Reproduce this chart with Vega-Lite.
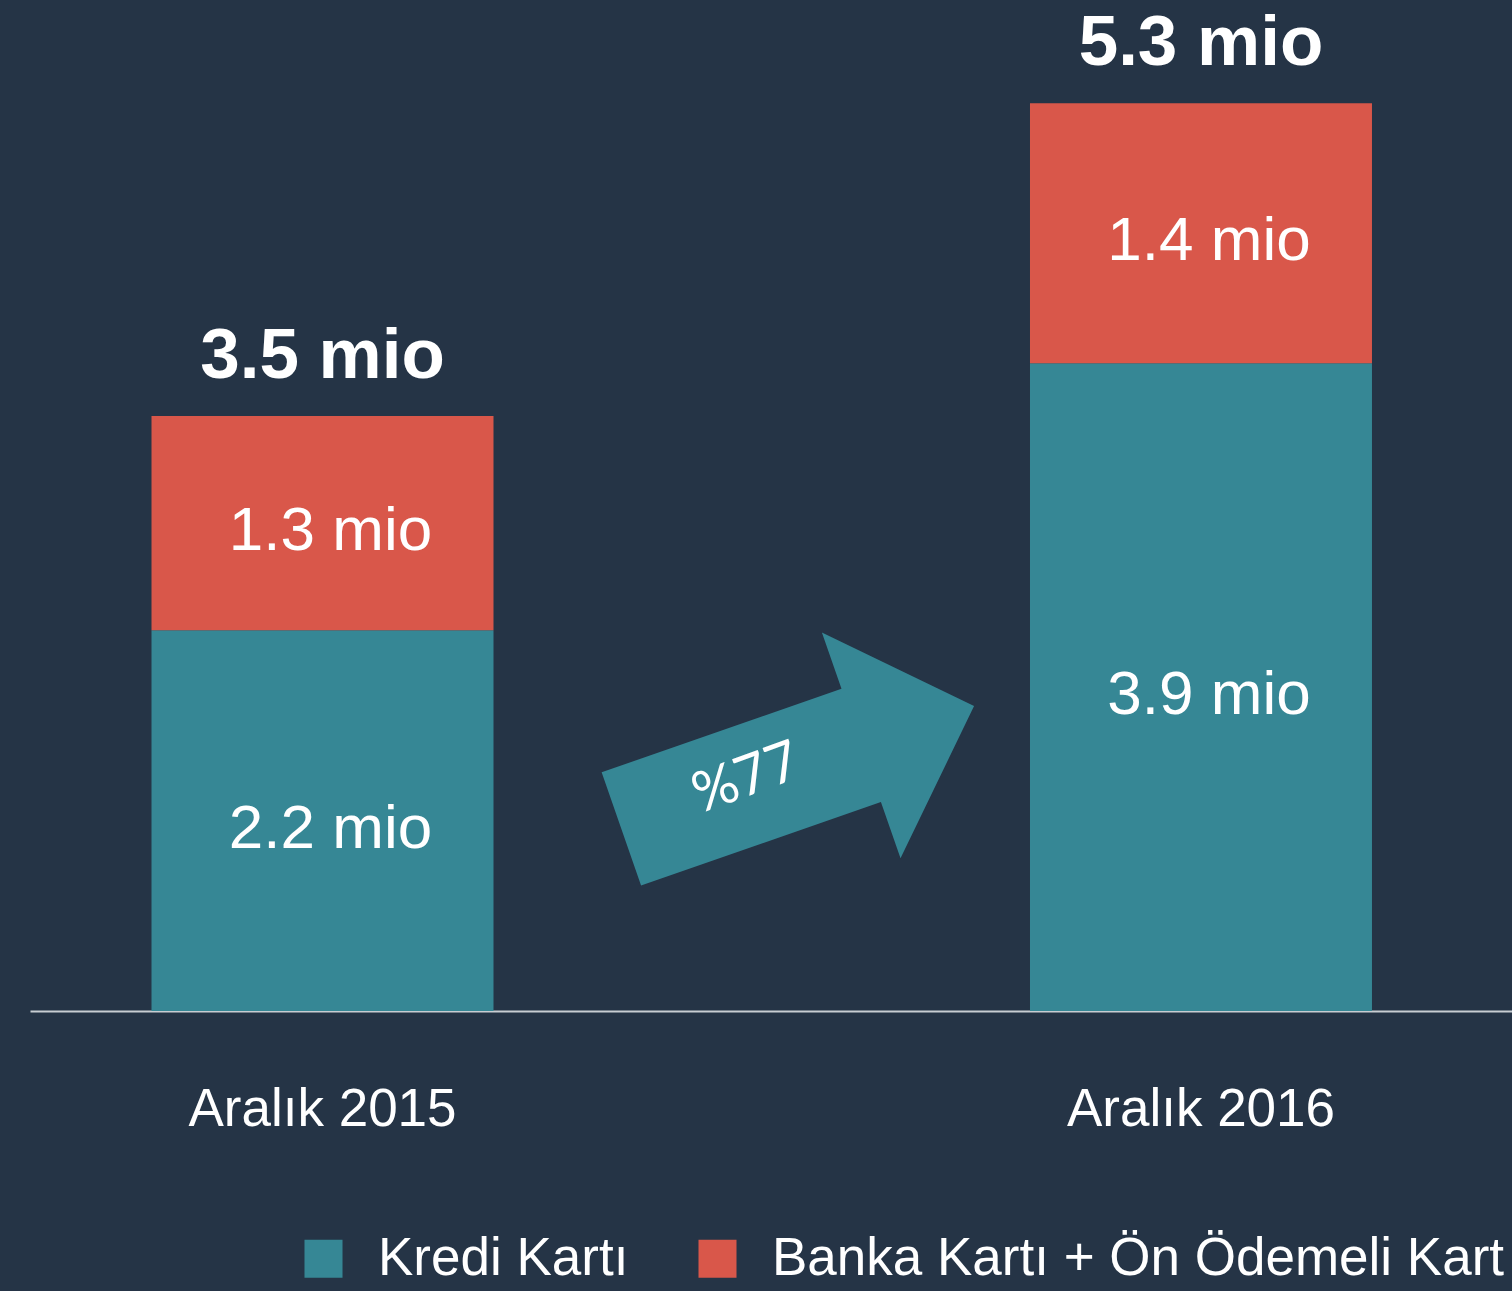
{
  "$schema": "https://vega.github.io/schema/vega-lite/v6.json",
  "width": 1482,
  "height": 1011,
  "autosize": {"type": "none"},
  "padding": {"left": 30, "top": 0, "right": 0, "bottom": 280},
  "background": "#253446",
  "config": {"view": {"stroke": null}, "font": "Liberation Sans"},
  "datasets": {
    "segments": [
      {"period": "Aralık 2015", "type": "Kredi Kartı", "order": 1, "value": 2.24, "label": "2.2 mio"},
      {"period": "Aralık 2015", "type": "Banka Kartı + Ön Ödemeli Kart", "order": 2, "value": 1.26, "label": "1.3 mio"},
      {"period": "Aralık 2016", "type": "Kredi Kartı", "order": 1, "value": 3.81, "label": "3.9 mio"},
      {"period": "Aralık 2016", "type": "Banka Kartı + Ön Ödemeli Kart", "order": 2, "value": 1.53, "label": "1.4 mio"}
    ],
    "totals": [
      {"period": "Aralık 2015", "value": 3.5, "label": "3.5 mio"},
      {"period": "Aralık 2016", "value": 5.34, "label": "5.3 mio"}
    ],
    "arrow": [{"period": "%77", "value": 1.432}],
    "growth": [{"period": "%77", "value": 1.40, "label": "%77"}]
  },
  "encoding": {
    "x": {
      "field": "period",
      "type": "nominal",
      "title": null,
      "scale": {
        "domain": ["Aralık 2015", "%77", "Aralık 2016"],
        "paddingInner": 0.2214,
        "paddingOuter": 0.2977,
        "align": 0.4646
      },
      "axis": {
        "domainColor": "#c8cdd2",
        "domainWidth": 2,
        "ticks": false,
        "grid": false,
        "labelAngle": 0,
        "labelFontSize": 53,
        "labelColor": "#ffffff",
        "labelFont": "Liberation Sans",
        "labelPadding": 72,
        "labelLimit": 1000,
        "labelExpr": "datum.value == '%77' ? '' : datum.label"
      }
    }
  },
  "layer": [
    {
      "data": {"name": "segments"},
      "mark": {"type": "bar"},
      "encoding": {
        "y": {
          "field": "value",
          "type": "quantitative",
          "stack": "zero",
          "scale": {"domain": [0, 5.947], "nice": false, "zero": true},
          "axis": null
        },
        "order": {"field": "order", "type": "quantitative"},
        "color": {
          "field": "type",
          "type": "nominal",
          "scale": {
            "domain": ["Kredi Kartı", "Banka Kartı + Ön Ödemeli Kart"],
            "range": ["#368795", "#D9574A"]
          },
          "legend": {
            "orient": "none",
            "legendX": 267,
            "legendY": 1232,
            "direction": "horizontal",
            "title": null,
            "padding": 0,
            "symbolType": "square",
            "symbolSize": 1444,
            "symbolStrokeWidth": 0,
            "symbolOpacity": 1,
            "labelFontSize": 53,
            "labelColor": "#ffffff",
            "labelFont": "Liberation Sans",
            "labelLimit": 1000,
            "labelOffset": 28,
            "columnPadding": 62
          }
        }
      }
    },
    {
      "data": {"name": "segments"},
      "transform": [
        {"stack": "value", "groupby": ["period"], "sort": [{"field": "order", "order": "ascending"}], "as": ["y0", "y1"]},
        {"calculate": "(datum.y0 + datum.y1) / 2", "as": "mid"}
      ],
      "mark": {"type": "text", "align": "center", "baseline": "middle", "fontSize": 62, "color": "#ffffff", "dx": 8, "dy": 8},
      "encoding": {
        "y": {"field": "mid", "type": "quantitative", "stack": null},
        "text": {"field": "label"}
      }
    },
    {
      "data": {"name": "totals"},
      "mark": {"type": "text", "align": "center", "baseline": "alphabetic", "fontSize": 71, "fontWeight": "bold", "color": "#ffffff", "dy": -38},
      "encoding": {
        "y": {"field": "value", "type": "quantitative", "stack": null},
        "text": {"field": "label"}
      }
    },
    {
      "data": {"name": "arrow"},
      "mark": {
        "type": "point",
        "shape": "M -0.818 -0.258 L 0.542 -0.258 L 0.542 -0.577 L 1.182 0.063 L 0.542 0.703 L 0.542 0.384 L -0.818 0.384 Z",
        "filled": true,
        "opacity": 1,
        "angle": -19.2,
        "size": 139502,
        "color": "#368795",
        "strokeWidth": 0
      },
      "encoding": {
        "y": {"field": "value", "type": "quantitative", "stack": null}
      }
    },
    {
      "data": {"name": "growth"},
      "mark": {"type": "text", "align": "center", "baseline": "middle", "font": "Lato", "fontSize": 56, "color": "#ffffff", "angle": -20, "dx": -16},
      "encoding": {
        "y": {"field": "value", "type": "quantitative", "stack": null},
        "text": {"field": "label"}
      }
    }
  ]
}
